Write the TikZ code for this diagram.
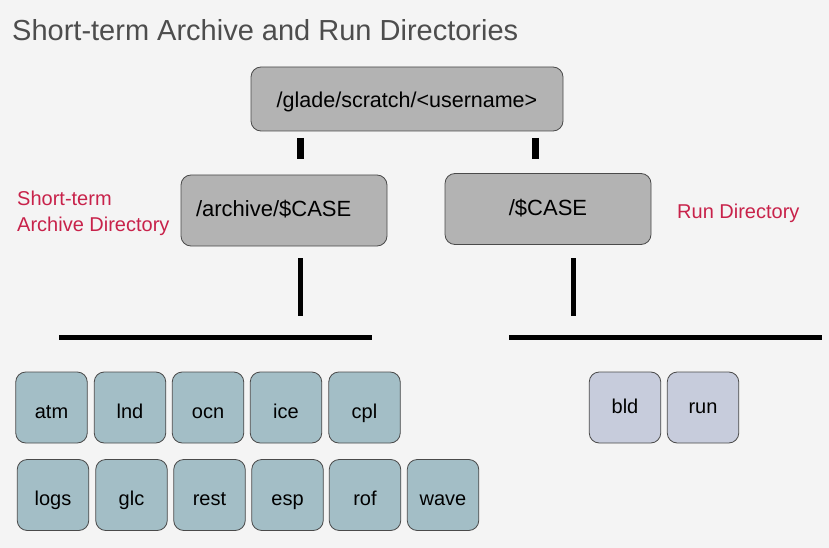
\documentclass[tikz,border=0pt]{standalone}
\usepackage{fontspec}
\setmainfont{Liberation Sans}
\definecolor{bggray}{HTML}{F4F4F4}
\definecolor{boxgray}{HTML}{B3B3B3}
\definecolor{boxline}{HTML}{4A4A4A}
\definecolor{archteal}{HTML}{A3BEC6}
\definecolor{runlilac}{HTML}{C7CCDC}
\definecolor{labelred}{HTML}{C8224A}
\definecolor{titlegray}{HTML}{4D4D4D}

\begin{document}
\begin{tikzpicture}[x=1pt,y=-1pt,
  dirbox/.style={draw=boxline, fill=boxgray, rounded corners=10pt, line width=0.8pt,
    minimum width=206pt, minimum height=71pt, inner sep=0pt, text height=12.4pt, text depth=0pt,
    font=\fontsize{22}{26}\selectfont},
  subbox/.style={draw=boxline, fill=archteal, rounded corners=10pt, line width=0.8pt,
    minimum width=71.5pt, minimum height=71pt, inner sep=0pt, text height=21pt, text depth=0pt,
    font=\fontsize{20}{24}\selectfont},
  runbox/.style={subbox, fill=runlilac, text height=12pt},
  redlabel/.style={text=labelred, inner sep=0pt, align=left, font=\fontsize{20}{26}\selectfont},
  bar/.style={line width=5pt},
  stub/.style={line width=7pt}]

  % Background
  \fill[bggray] (0,0) rectangle (829,548);
  \useasboundingbox (0,0) rectangle (829,548);

  % Title
  \node[anchor=base west, inner sep=0pt, text=titlegray, font=\fontsize{29}{34}\selectfont]
    (title) at (12,40.7) {Short-term Archive and Run Directories};

  % Directories
  \node[dirbox, minimum width=312pt, minimum height=64pt, text height=18pt,
    font=\fontsize{21.5}{26}\selectfont] (scratch) at (407,99) {/glade/scratch/<username>};
  \node[dirbox, align=left, text width=176pt, inner xsep=15pt] (archive) at (284,210.5) {/archive/\$CASE};
  \node[dirbox] (case) at (548,209) {/\$CASE};

  % Labels
  \node[redlabel, anchor=base west] (archlabel) at (17,231.7) {Short-term\\Archive Directory};
  \node[redlabel, anchor=base west] (runlabel) at (677,218) {Run Directory};

  % Lines
  \coordinate (stubLa) at (300.7,138);
  \coordinate (stubLb) at (300.7,159);
  \coordinate (stubRa) at (535,138);
  \coordinate (stubRb) at (535,159);
  \draw[stub] (stubLa) -- (stubLb);
  \draw[stub] (stubRa) -- (stubRb);

  \coordinate (archtop) at (300.7,258);
  \coordinate (archbot) at (300.7,316);
  \coordinate (casetop) at (573.3,258);
  \coordinate (casebot) at (573.3,316);
  \draw[bar] (archtop) -- (archbot);
  \draw[bar] (casetop) -- (casebot);

  \coordinate (archleft) at (59,337);
  \coordinate (archright) at (371.7,337);
  \coordinate (caseleft) at (509,337);
  \coordinate (caseright) at (822,337);
  \draw[bar] (archleft) -- (archright);
  \draw[bar] (caseleft) -- (caseright);

  % Archive subdirectories
  \node[subbox] (atm) at (51.5,407.5) {atm};
  \node[subbox] (lnd) at (130,407.5) {lnd};
  \node[subbox] (ocn) at (208,407.5) {ocn};
  \node[subbox] (ice) at (286,407.5) {ice};
  \node[subbox] (cpl) at (364.5,407.5) {cpl};

  \node[subbox] (logs) at (53,495) {logs};
  \node[subbox] (glc) at (131.5,495) {glc};
  \node[subbox] (rest) at (209.5,495) {rest};
  \node[subbox] (esp) at (287.5,495) {esp};
  \node[subbox] (rof) at (365,495) {rof};
  \node[subbox] (wave) at (443,495) {wave};

  % Run subdirectories
  \node[runbox] (bld) at (625,407.5) {bld};
  \node[runbox] (run) at (703,407.5) {run};
\end{tikzpicture}
\end{document}
